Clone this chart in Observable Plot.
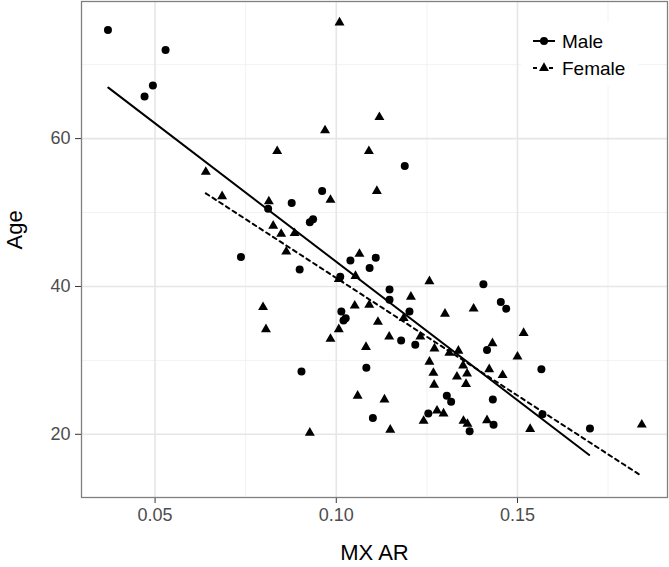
<!DOCTYPE html>
<html><head><meta charset="utf-8">
<script src="https://cdn.jsdelivr.net/npm/d3@7"></script>
<script src="https://cdn.jsdelivr.net/npm/@observablehq/plot@0.6"></script>
<style>
body{margin:0;background:#fff}
#chart svg{font-family:"Liberation Sans",Arial,Helvetica,sans-serif;background:#fff}
</style>
</head><body><div id="chart"></div>
<script>
// Male (circles)
const maleMX = [0.0370,0.0529,0.0494,0.0471,0.0812,0.1189,0.0961,0.0877,0.0927,0.0936,
  0.0899,0.1039,0.1109,0.1092,0.1011,0.1147,0.1147,0.1014,0.1026,0.1020,
  0.1202,0.1179,0.1218,0.0904,0.1083,0.1305,0.1317,0.1101,0.1254,0.1368,
  0.0737,0.1406,0.1454,0.1469,0.1416,0.1566,0.1432,0.1569,0.1434,0.1700];
const maleAge = [74.7,72.0,67.2,65.7,50.5,56.3,52.9,51.3,48.7,49.1,
  42.3,43.5,43.9,42.5,41.3,39.6,38.2,36.6,35.7,35.4,
  36.6,32.7,32.1,28.5,29.0,25.2,24.4,22.2,22.8,20.4,
  44.0,40.3,37.9,37.0,31.4,28.8,24.7,22.7,21.3,20.8];
// Female (triangles)
const femaleMX = [0.0640,0.0685,0.0837,0.0814,0.0826,0.1009,0.1119,0.0969,0.1090,0.1112,
  0.0984,0.0848,0.0885,0.0862,0.1064,0.1007,0.1053,0.1257,0.1206,0.1051,
  0.1091,0.1186,0.1300,0.1115,0.1007,0.0984,0.1146,0.1232,0.1082,0.1271,
  0.1312,0.1337,0.1257,0.1268,0.1350,0.1333,0.1361,0.1358,0.1270,0.1059,
  0.1133,0.1149,0.0927,0.1278,0.1296,0.1241,0.1351,0.1362,0.0798,0.0806,
  0.1379,0.1517,0.1431,0.1500,0.1422,0.1459,0.1416,0.1535,0.1843];
const femaleAge = [55.5,52.2,58.3,51.5,48.2,75.7,62.9,61.1,58.3,52.9,
  51.7,47.1,47.2,44.7,44.4,41.0,41.4,40.7,38.6,37.4,
  37.5,35.7,36.3,35.2,34.2,32.9,33.2,33.2,31.8,31.6,
  31.0,31.3,29.8,28.3,29.3,27.8,28.2,26.8,26.7,25.2,
  24.7,20.6,20.2,23.2,22.8,21.8,21.8,21.4,37.2,34.2,
  37.0,33.7,32.3,30.5,28.8,28.0,21.9,20.7,21.3];
// Fitted regression lines (end points)
const maleFitMX = [0.0371,0.1698];
const maleFitAge = [66.9,17.2];
const femaleFitMX = [0.0640,0.1838];
const femaleFitAge = [52.6,14.5];
// Ticks
const xTicks = [0.05,0.10,0.15];
const xMinor = [0.075,0.125,0.175];
const yTicks = [20,40,60];
const yMinor = [30,50,70];
const seriesNames = ["Male","Female"];

const male = maleMX.map((x,i)=>({x, y: maleAge[i]}));
const female = femaleMX.map((x,i)=>({x, y: femaleAge[i]}));
const maleFit = maleFitMX.map((x,i)=>({x, y: maleFitAge[i]}));
const femaleFit = femaleFitMX.map((x,i)=>({x, y: femaleFitAge[i]}));

const chart = Plot.plot({
  width: 669, height: 567,
  marginLeft: 81, marginRight: 2, marginTop: 1, marginBottom: 70,
  x: {domain: [0.0297, 0.1914]},
  y: {domain: [11.45, 78.55]},
  marks: [
    Plot.ruleX(xMinor, {stroke: "#f2f2f2", strokeWidth: 1}),
    Plot.ruleY(yMinor, {stroke: "#f2f2f2", strokeWidth: 1}),
    Plot.ruleX(xTicks, {stroke: "#e6e6e6", strokeWidth: 1.6}),
    Plot.ruleY(yTicks, {stroke: "#e6e6e6", strokeWidth: 1.6}),
    Plot.axisX(xTicks, {tickFormat: d3.format(".2f"), tickSize: 6, tickPadding: 5, fontSize: 18, color: "#4d4d4d", stroke: "#333", label: null}),
    Plot.axisY(yTicks, {tickSize: 6, tickPadding: 5, fontSize: 18, color: "#4d4d4d", stroke: "#333", label: null}),
    Plot.line(femaleFit, {x: "x", y: "y", stroke: "black", strokeWidth: 2, strokeDasharray: "4,4"}),
    Plot.line(maleFit, {x: "x", y: "y", stroke: "black", strokeWidth: 2}),
    Plot.dot(male, {x: "x", y: "y", symbol: "circle", fill: "black", stroke: "none", r: 4}),
    Plot.dot(female, {x: "x", y: "y", symbol: "triangle", fill: "black", stroke: "none", r: 3.7}),
    Plot.frame({stroke: "#7f7f7f", strokeWidth: 1.3}),
    Plot.text(["MX AR"], {frameAnchor: "bottom", dy: 62, lineAnchor: "bottom", fontSize: 22, fill: "black"}),
    Plot.text(["Age"], {frameAnchor: "left", dx: -67, rotate: -90, fontSize: 22, fill: "black"})
  ]
});
document.getElementById("chart").appendChild(chart);

// Legend inside the panel (top right)
const svg = d3.select(chart);
const lg = svg.append("g").attr("text-anchor", "start");
lg.append("rect").attr("x", 521).attr("y", 22).attr("width", 117).attr("height", 64).attr("fill", "white");
seriesNames.forEach((name, i) => {
  const cy = 41 + i * 27;
  lg.append("line").attr("x1", 533).attr("x2", 555).attr("y1", cy).attr("y2", cy)
    .attr("stroke", "black").attr("stroke-width", 2)
    .attr("stroke-dasharray", i === 1 ? "4,4" : null);
  if (i === 0) {
    lg.append("circle").attr("cx", 544).attr("cy", cy).attr("r", 4).attr("fill", "black");
  } else {
    lg.append("path").attr("transform", `translate(544,${cy})`)
      .attr("d", d3.symbol(d3.symbolTriangle, Math.PI * 3.7 * 3.7)()).attr("fill", "black");
  }
  lg.append("text").attr("x", 562).attr("y", cy).attr("dy", "0.35em")
    .attr("text-anchor", "start")
    .attr("font-size", 19).attr("fill", "black").text(name);
});
</script>
</body></html>
